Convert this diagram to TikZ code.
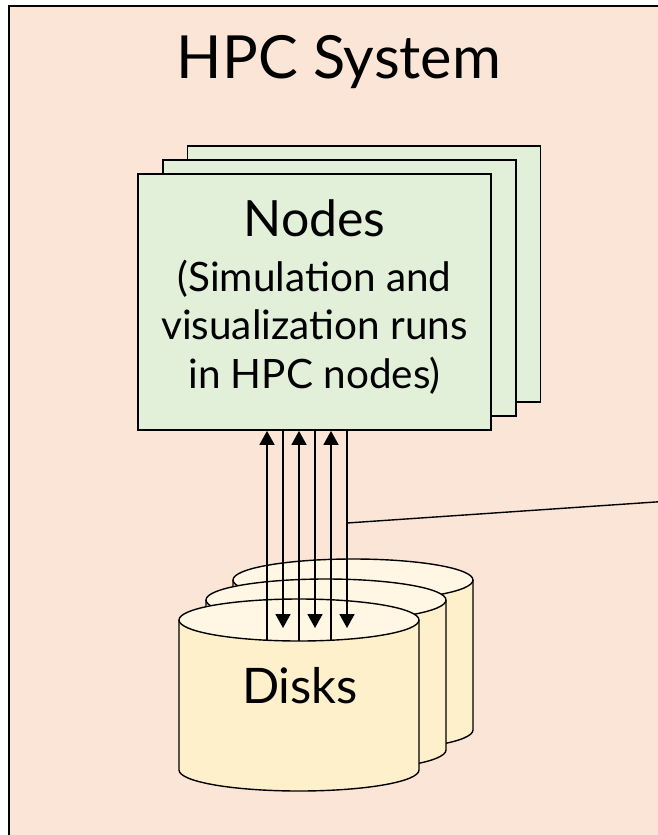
\documentclass[tikz,border=0pt]{standalone}
\usepackage{fontspec}
\setmainfont{Lato}
\usetikzlibrary{arrows.meta,calc}
\definecolor{hpcpeach}{HTML}{FBE5D6}
\definecolor{nodegreen}{HTML}{E2F0D9}
\definecolor{disktop}{HTML}{FFF7E3}
\definecolor{diskbody}{HTML}{FFF0CC}
\tikzstyle{arrow} = [line width=1.7pt,-{Triangle[width=15pt,length=14pt]}]
\tikzstyle{card} = [draw, line width=1.8pt, fill=nodegreen, minimum width=353pt, minimum height=256pt, inner sep=0pt]
\tikzstyle{disk} = [line width=1.4pt]

\begin{document}
\begin{tikzpicture}[x=1pt, y=-1pt]
  \clip (0,0) rectangle (658,835);
  \filldraw[fill=hpcpeach, line width=2pt] (9,6) rectangle (700,900);
  \node[anchor=base, font=\fontsize{59.5}{70}\selectfont] (title) at (339,78) {HPC System};
  \node[card] (card3) at (364,274) {};
  \node[card] (card2) at (339.5,288) {};
  \node[card] (card1) at (314.5,302) {};
  \node[align=center, font=\fontsize{40.5}{48.5}\selectfont, yshift=5pt] (nodetext) at (card1) {{\fontsize{50}{48.5}\selectfont Nodes}\\[6pt](Simulation and\\visualization runs\\in HPC nodes)};
  \foreach \dx/\dy in {54/-40,27/-20,0/0} {
    \begin{scope}[shift={(\dx,\dy)}]
      \fill[diskbody] (179,620) -- (179,770) arc[start angle=180, end angle=0, x radius=120, y radius=21] -- (419,620) -- cycle;
      \draw[disk] (179,620) -- (179,770) arc[start angle=180, end angle=0, x radius=120, y radius=21] -- (419,620);
      \filldraw[disk, fill=disktop] (299,620) ellipse [x radius=120, y radius=21];
    \end{scope}
  }
  \node[anchor=base, font=\fontsize{49}{56}\selectfont] (disks) at (300,703) {Disks};
  \coordinate (dtop) at (299,641);
  \foreach \dx in {-32,0,32}
    \draw[arrow] ($(dtop)+(\dx,0)$) -- ($(dtop |- card1.south)+(\dx,0)$);
  \foreach \dx in {-16,16,48}
    \draw[arrow] ($(dtop |- card1.south)+(\dx,0)$) -- ($(dtop)+(\dx,-13)$);
  \coordinate (tap) at (347,523);
  \coordinate (away) at (670,501);
  \draw[line width=1.4pt] (tap) -- (away);
\end{tikzpicture}
\end{document}
